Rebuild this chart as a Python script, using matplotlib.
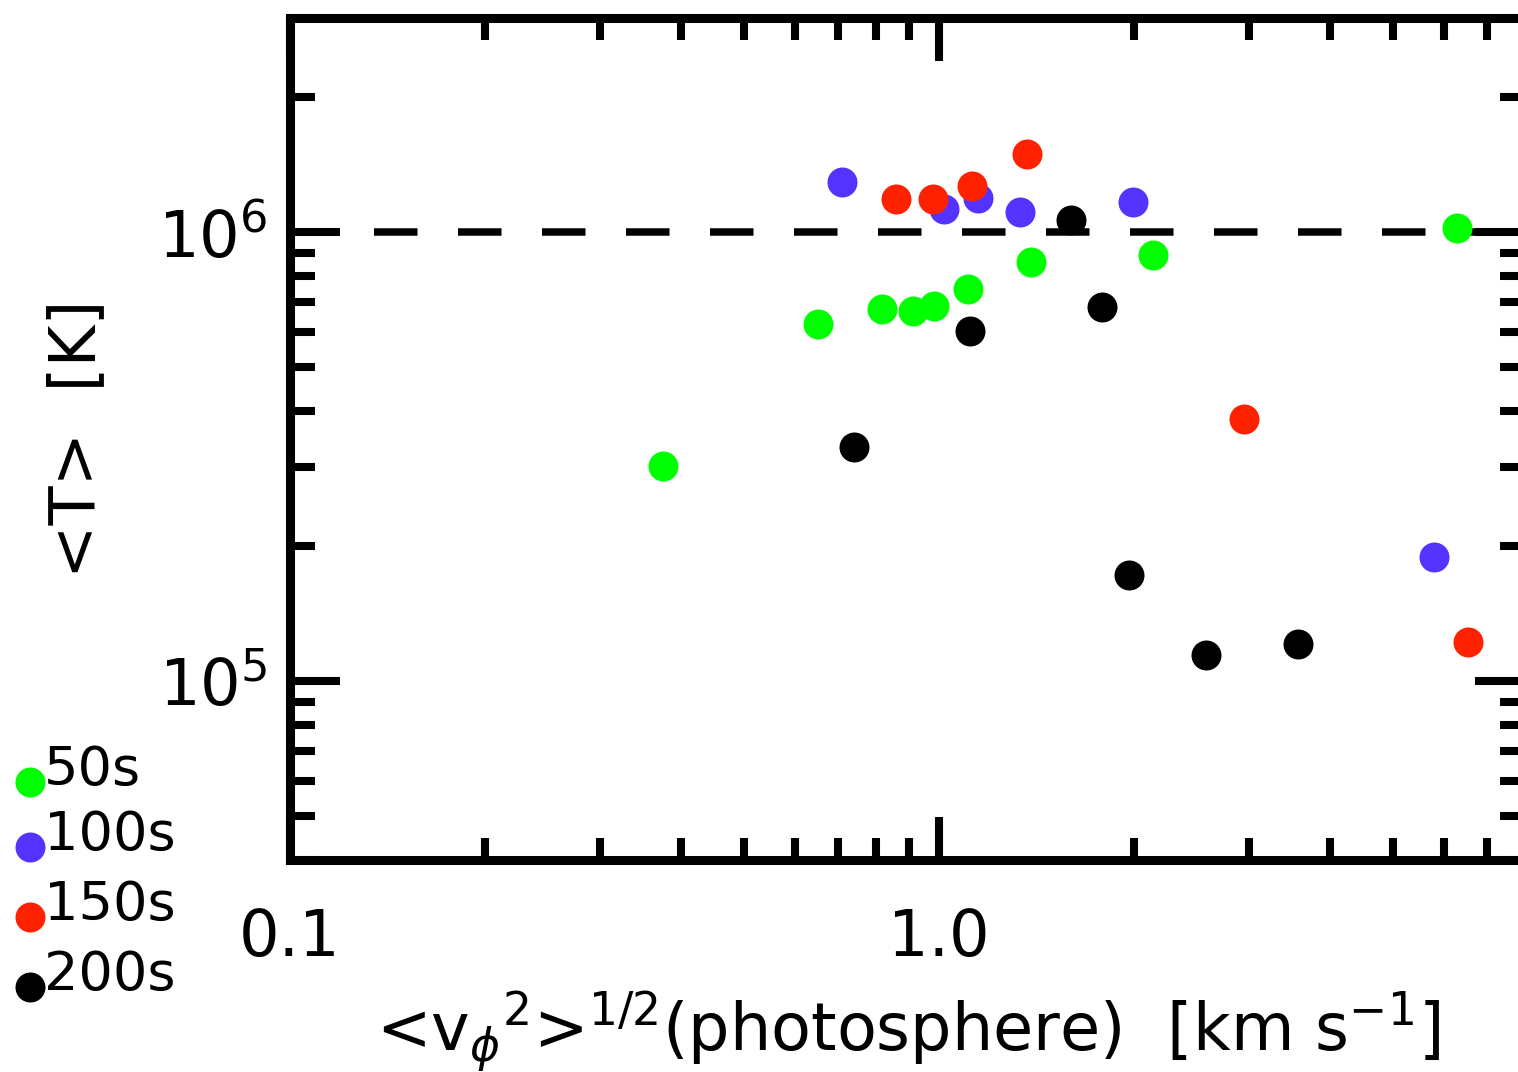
import numpy as np
import matplotlib
matplotlib.use('Agg')
import matplotlib.pyplot as plt
from matplotlib.ticker import LogLocator, NullFormatter, FixedLocator, FixedFormatter

plt.rcParams['font.family'] = ['DejaVu Sans']
plt.rcParams['mathtext.fontset'] = 'dejavusans'

# velocity (km/s) and mean temperature (K) for each time step
v_50 = [0.376, 0.651, 0.817, 0.912, 0.982, 1.108, 1.386, 2.137, 6.28]
T_50 = [3.02e5, 6.25e5, 6.74e5, 6.68e5, 6.85e5, 7.47e5, 8.58e5, 8.89e5, 1.02e6]

v_100 = [0.709, 1.018, 1.148, 1.333, 1.990, 5.79]
T_100 = [1.291e6, 1.125e6, 1.190e6, 1.108e6, 1.166e6, 1.896e5]

v_150 = [0.859, 0.979, 1.124, 1.366, 2.951, 6.53]
T_150 = [1.184e6, 1.184e6, 1.265e6, 1.491e6, 3.84e5, 1.221e5]

v_200 = [0.740, 1.116, 1.597, 1.783, 1.963, 2.578, 3.574]
T_200 = [3.33e5, 6.03e5, 1.063e6, 6.81e5, 1.729e5, 1.142e5, 1.208e5]

labels = ['50s', '100s', '150s', '200s']
colors = ['#00ff00', '#5533ff', '#ff2200', '#000000']
T_ref = 1e6

fig = plt.figure(figsize=(15.18, 10.72), dpi=100)
ax = fig.add_axes([0.19104, 0.19776, 0.81357, 0.78545])
ax.set_xscale('log')
ax.set_yscale('log')
ax.set_xlim(0.1, 8)
ax.set_ylim(4e4, 3e6)

# dashed reference line at 1 MK
ax.axhline(T_ref, color='k', lw=5.4, linestyle=(0, (5.8, 5.4)), zorder=1)

series = [(v_50, T_50), (v_100, T_100), (v_150, T_150), (v_200, T_200)]
for (v, T), c in zip(series, colors):
    ax.plot(v, T, 'o', color=c, ms=21.6, mew=0, zorder=3)

# IDL-like axes
for s in ax.spines.values():
    s.set_linewidth(6.5)
ax.xaxis.set_major_locator(FixedLocator([0.1, 1.0]))
ax.xaxis.set_major_formatter(FixedFormatter(['0.1', '1.0']))
ax.xaxis.set_minor_locator(LogLocator(base=10, subs=np.arange(2, 10)))
ax.xaxis.set_minor_formatter(NullFormatter())
ax.yaxis.set_major_locator(FixedLocator([1e5, 1e6]))
ax.yaxis.set_major_formatter(FixedFormatter([r'$10^{5}$', r'$10^{6}$']))
ax.yaxis.set_minor_locator(LogLocator(base=10, subs=np.arange(2, 10)))
ax.yaxis.set_minor_formatter(NullFormatter())

ax.tick_params(which='both', direction='in', top=True, right=True, width=5.8)
ax.tick_params(axis='x', which='major', length=31, pad=34, labelsize=46)
ax.tick_params(axis='x', which='minor', length=16)
ax.tick_params(axis='y', which='major', length=36, pad=16, labelsize=46)
ax.tick_params(axis='y', which='minor', length=18)

ax.set_xlabel(r'<v$_\phi$$^2$>$^{1/2}$(photosphere)  [km s$^{-1}$]', fontsize=47, labelpad=14)
ax.set_ylabel('<T>  [K]', fontsize=46, labelpad=36)

# legend outside the axes, bottom left
leg_y = [0.2705, 0.2099, 0.1446, 0.0793]
for lab, c, yy in zip(labels, colors, leg_y):
    ax.plot([0.0198], [yy], 'o', color=c, ms=21.6, mew=0,
            transform=fig.transFigure, clip_on=False)
    fig.text(0.029, yy - 0.003, lab, fontsize=39, ha='left', va='baseline')

fig.savefig('out.png', dpi=100)
